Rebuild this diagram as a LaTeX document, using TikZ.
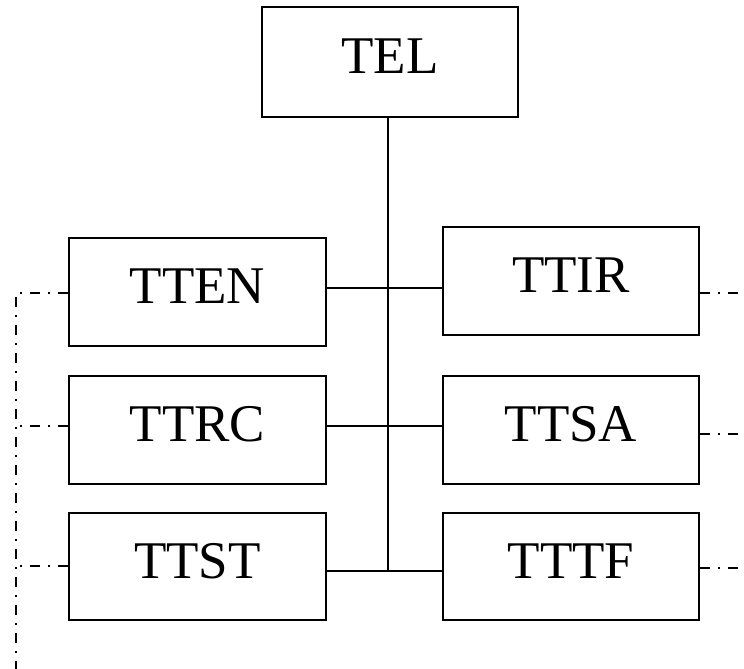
\documentclass[tikz,border=0pt]{standalone}
\usepackage{fontspec}
\setmainfont{Liberation Serif}
\begin{document}
\begin{tikzpicture}[x=1pt,y=-1pt,
  box/.style={draw,line width=2pt,inner sep=0pt,text height=35pt,text depth=12pt,font=\fontsize{53}{60}\selectfont},
  conn/.style={line width=1.8pt},
  dd/.style={line width=1.8pt,dash pattern=on 10pt off 8pt on 2pt off 8pt}]
\useasboundingbox (0,0) rectangle (744,669);
\node[box,minimum width=256pt,minimum height=109pt] (TEL) at (390,62) {TEL};
\node[box,minimum width=257pt,minimum height=108pt] (TTEN) at (197.5,291.5) {TTEN};
\node[box,minimum width=256pt,minimum height=108pt] (TTIR) at (571,281) {TTIR};
\node[box,minimum width=257pt,minimum height=108pt] (TTRC) at (197.5,429.5) {TTRC};
\node[box,minimum width=256pt,minimum height=108pt] (TTSA) at (571,429.5) {TTSA};
\node[box,minimum width=257pt,minimum height=107pt] (TTST) at (197.5,566.5) {TTST};
\node[box,minimum width=256pt,minimum height=107pt] (TTTF) at (571,566.5) {TTTF};
\coordinate (j1) at (388,288);
\coordinate (j2) at (388,426);
\coordinate (j3) at (388,571);
\draw[conn] (TEL.south -| j1) -- (j3);
\draw[conn] (TTEN.east |- j1) -- (j1 -| TTIR.west);
\draw[conn] (TTRC.east |- j2) -- (j2 -| TTSA.west);
\draw[conn] (TTST.east |- j3) -- (j3 -| TTTF.west);
\coordinate (l1) at (16,293);
\coordinate (l2) at (16,426);
\coordinate (l3) at (16,566);
\coordinate (lb) at (16,669);
\draw[dd] (TTEN.west |- l1) -- (l1) -- (lb);
\draw[dd] (TTRC.west |- l2) -- (l2);
\draw[dd] (TTST.west |- l3) -- (l3);
\coordinate (r1) at (744,293);
\coordinate (r2) at (744,434);
\coordinate (r3) at (744,568);
\draw[dd] (TTIR.east |- r1) -- (r1);
\draw[dd] (TTSA.east |- r2) -- (r2);
\draw[dd] (TTTF.east |- r3) -- (r3);
\end{tikzpicture}
\end{document}
